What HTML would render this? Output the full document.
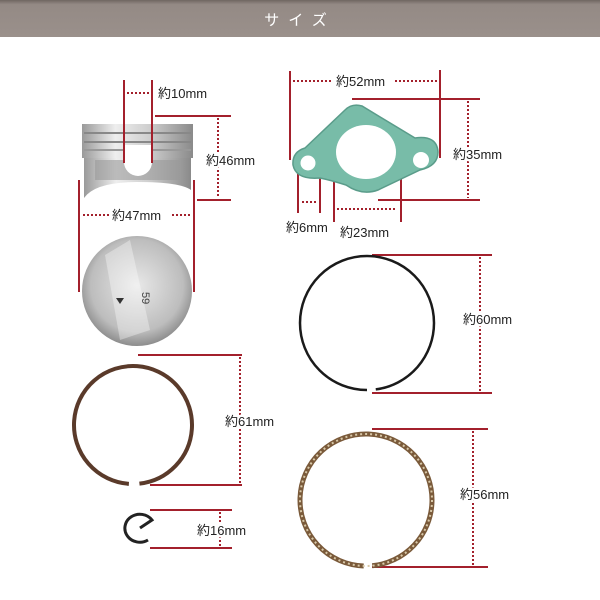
<!DOCTYPE html>
<html><head><meta charset="utf-8"><style>
html,body{margin:0;padding:0;background:#fff;width:600px;height:600px;overflow:hidden}
svg text{font-family:"Liberation Sans","Noto Sans CJK JP",sans-serif;font-size:13px;fill:#222;stroke:#fff;stroke-width:5px;paint-order:stroke;stroke-linejoin:round}
</style></head><body>
<svg width="600" height="600" viewBox="0 0 600 600" xmlns="http://www.w3.org/2000/svg">
<defs>
<linearGradient id="hd" x1="0" y1="0" x2="0" y2="1">
<stop offset="0" stop-color="#6f6661"/><stop offset="0.12" stop-color="#948a85"/><stop offset="1" stop-color="#9a908b"/></linearGradient>
<linearGradient id="met" x1="0" y1="0" x2="1" y2="0">
<stop offset="0" stop-color="#9a9a9a"/><stop offset="0.3" stop-color="#eeeeee"/><stop offset="0.6" stop-color="#cfcfcf"/><stop offset="1" stop-color="#8a8a8a"/></linearGradient>
<radialGradient id="top" cx="0.5" cy="0.45" r="0.6">
<stop offset="0" stop-color="#e8e8e8"/><stop offset="0.7" stop-color="#bdbdbd"/><stop offset="1" stop-color="#7a7a7a"/></radialGradient>
</defs>
<rect x="0" y="0" width="600" height="37" fill="url(#hd)"/>
<text x="300" y="25" text-anchor="middle" style="fill:#fff;stroke:none;font-size:15px;letter-spacing:9px">サイズ</text>

<!-- piston side -->
<rect x="82" y="124" width="111" height="34" fill="url(#met)"/>
<line x1="84" y1="133" x2="191" y2="133" stroke="#888" stroke-width="2"/>
<line x1="84" y1="142" x2="191" y2="142" stroke="#888" stroke-width="2"/>
<line x1="84" y1="150" x2="191" y2="150" stroke="#999" stroke-width="2"/>
<path d="M84 158 H191 V190 Q180 182 137 182 Q95 182 84 198 Z" fill="url(#met)"/>
<path d="M95 160 H180 V180 H95Z" fill="#9a9a9a" opacity="0.6"/>
<circle cx="138" cy="162" r="14" fill="#fff"/>
<rect x="124" y="145" width="28" height="17" fill="#fff"/>
<!-- piston top -->
<circle cx="137" cy="291" r="55" fill="url(#top)"/>
<path d="M105 255 L130 240 L150 330 L120 340Z" fill="#fff" opacity="0.35"/>
<polygon points="117,301 123,297 123,305" fill="#333" transform="rotate(-90 120 301)"/>
<text x="147" y="297" transform="rotate(90 147 292)" style="font-size:11px;fill:#444;stroke:none">59</text>

<g stroke="#a3202c" stroke-width="2" fill="none">
<line x1="124" y1="80" x2="124" y2="163"/><line x1="152" y1="80" x2="152" y2="163"/>
<line x1="155" y1="116" x2="231" y2="116"/><line x1="197" y1="200" x2="231" y2="200"/>
<line x1="79" y1="180" x2="79" y2="292"/><line x1="194" y1="180" x2="194" y2="292"/>
<line x1="290" y1="71" x2="290" y2="160"/><line x1="440" y1="70" x2="440" y2="158"/>
<line x1="352" y1="99" x2="480" y2="99"/><line x1="378" y1="200" x2="480" y2="200"/>
<line x1="298" y1="160" x2="298" y2="213"/><line x1="320" y1="160" x2="320" y2="213"/>
<line x1="334" y1="153" x2="334" y2="222"/><line x1="401" y1="153" x2="401" y2="222"/>
<line x1="372" y1="255" x2="492" y2="255"/><line x1="372" y1="393" x2="492" y2="393"/>
<line x1="138" y1="355" x2="242" y2="355"/><line x1="150" y1="485" x2="242" y2="485"/>
<line x1="372" y1="429" x2="488" y2="429"/><line x1="372" y1="567" x2="488" y2="567"/>
<line x1="150" y1="510" x2="232" y2="510"/><line x1="150" y1="548" x2="232" y2="548"/>
</g>
<g stroke="#a3202c" stroke-width="2" stroke-dasharray="2 2" fill="none">
<line x1="127" y1="93" x2="149" y2="93"/>
<line x1="218" y1="118" x2="218" y2="198"/>
<line x1="83" y1="215" x2="110" y2="215"/><line x1="172" y1="215" x2="191" y2="215"/>
<line x1="293" y1="81" x2="333" y2="81"/><line x1="395" y1="81" x2="438" y2="81"/>
<line x1="468" y1="101" x2="468" y2="198"/>
<line x1="302" y1="202" x2="316" y2="202"/><line x1="337" y1="209" x2="397" y2="209"/>
<line x1="480" y1="257" x2="480" y2="391"/>
<line x1="240" y1="357" x2="240" y2="483"/>
<line x1="473" y1="431" x2="473" y2="565"/>
<line x1="220" y1="512" x2="220" y2="546"/>
</g>

<!-- gasket -->
<path d="M293 165 Q292 152 305 148 L345 110 Q352 103 362 106 L415 138 Q437 135 438 152 Q438 166 420 170 L378 190 Q362 196 346 185 Q330 180 320 178 Q296 180 293 165Z" fill="#78bca8" stroke="#5a9c8a" stroke-width="1.5"/>
<circle cx="308" cy="163" r="7.5" fill="#fff"/>
<circle cx="421" cy="160" r="8" fill="#fff"/>
<ellipse cx="366" cy="152" rx="30" ry="27" fill="#fff"/>

<!-- rings -->
<circle cx="367" cy="323" r="67" fill="none" stroke="#1a1a1a" stroke-width="2.5" stroke-dasharray="412 9" transform="rotate(90 367 323)"/>
<circle cx="133" cy="425" r="59" fill="none" stroke="#5a3a2a" stroke-width="4" stroke-dasharray="360 11" transform="rotate(94 133 425)"/>
<circle cx="366" cy="500" r="66" fill="none" stroke="#7a5a3a" stroke-width="5" stroke-dasharray="406 9" transform="rotate(92 366 500)"/>
<circle cx="366" cy="500" r="66" fill="none" stroke="#d8c8a8" stroke-width="2" stroke-dasharray="2 3"/>
<path d="M148 540 A15 14 0 1 1 152 520 L140 528" fill="none" stroke="#222" stroke-width="3"/>

<text x="158" y="98">約10mm</text>
<text x="206" y="165">約46mm</text>
<text x="112" y="220">約47mm</text>
<text x="336" y="86">約52mm</text>
<text x="453" y="159">約35mm</text>
<text x="286" y="232">約6mm</text>
<text x="340" y="237">約23mm</text>
<text x="463" y="324">約60mm</text>
<text x="225" y="426">約61mm</text>
<text x="460" y="499">約56mm</text>
<text x="197" y="535">約16mm</text>
</svg>
</body></html>
